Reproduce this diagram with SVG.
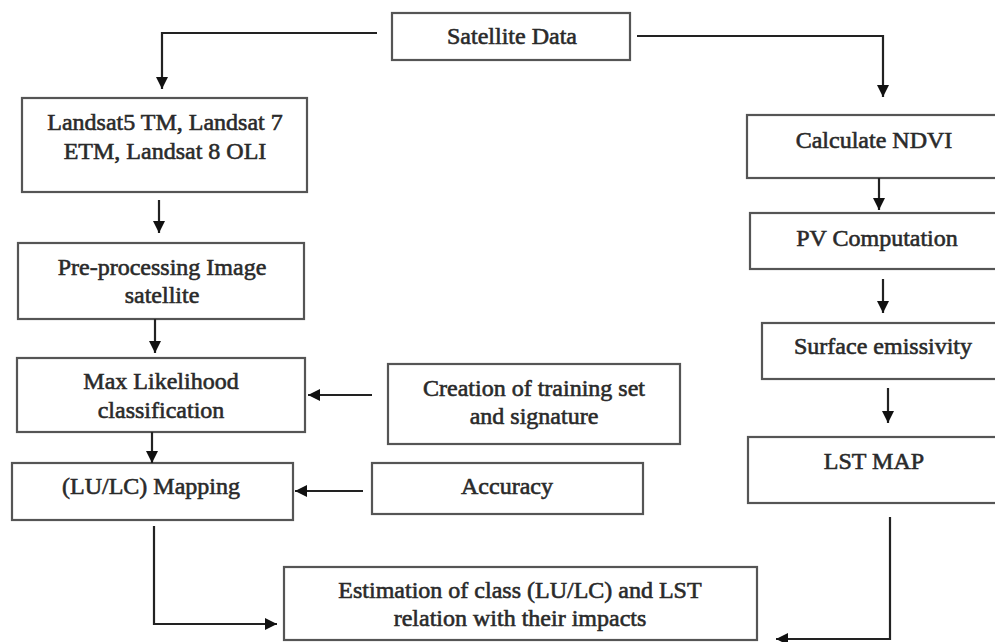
<svg xmlns="http://www.w3.org/2000/svg" width="995" height="642" viewBox="0 0 995 642">
<defs>
<marker id="ah" markerUnits="userSpaceOnUse" markerWidth="14" markerHeight="14" refX="12" refY="6" orient="auto">
<path d="M0,0 L12,6 L0,12 Z" fill="#111"/>
</marker>
<style>
.box{fill:#fff;stroke:#555;stroke-width:2.2}
.t{font-family:"Liberation Serif","Times New Roman",serif;font-size:24px;fill:#2a2a2a;stroke:#2a2a2a;stroke-width:0.6;text-anchor:middle}
.c{fill:none;stroke:#222;stroke-width:2.2;marker-end:url(#ah)}
</style>
</defs>
<rect width="995" height="642" fill="#fff"/>
<g id="satellite">
<rect class="box" x="392" y="13" width="238" height="47"/>
<text class="t" x="512" y="44">Satellite Data</text>
</g>
<g id="landsat">
<rect class="box" x="22" y="98" width="285" height="94"/>
<text class="t" x="165" y="130">Landsat5 TM, Landsat 7</text>
<text class="t" x="165" y="159">ETM, Landsat 8 OLI</text>
</g>
<g id="preprocessing">
<rect class="box" x="18" y="243" width="286" height="76"/>
<text class="t" x="162" y="275">Pre-processing Image</text>
<text class="t" x="162" y="303">satellite</text>
</g>
<g id="maxlikelihood">
<rect class="box" x="17" y="358" width="288" height="74"/>
<text class="t" x="161" y="389">Max Likelihood</text>
<text class="t" x="161" y="418">classification</text>
</g>
<g id="mapping">
<rect class="box" x="12" y="463" width="281" height="57"/>
<text class="t" x="151" y="494">(LU/LC) Mapping</text>
</g>
<g id="creation">
<rect class="box" x="388" y="364" width="292" height="80"/>
<text class="t" x="534" y="396">Creation of training set</text>
<text class="t" x="534" y="424">and signature</text>
</g>
<g id="accuracy">
<rect class="box" x="372" y="463" width="271" height="51"/>
<text class="t" x="507" y="494">Accuracy</text>
</g>
<g id="estimation">
<rect class="box" x="284" y="567" width="473" height="73"/>
<text class="t" x="520" y="598">Estimation of class (LU/LC) and LST</text>
<text class="t" x="520" y="626">relation with their impacts</text>
</g>
<g id="ndvi">
<rect class="box" x="747" y="115" width="255" height="63"/>
<text class="t" x="874" y="148">Calculate NDVI</text>
</g>
<g id="pv">
<rect class="box" x="750" y="213" width="255" height="56"/>
<text class="t" x="877" y="246">PV Computation</text>
</g>
<g id="emissivity">
<rect class="box" x="762" y="323" width="245" height="56"/>
<text class="t" x="883" y="354">Surface emissivity</text>
</g>
<g id="lstmap">
<rect class="box" x="748" y="437" width="255" height="66"/>
<text class="t" x="874" y="469">LST MAP</text>
</g>
<g id="connectors">
<path class="c" d="M377,33 H162 V89"/>
<path class="c" d="M637,36 H883 V97"/>
<path class="c" d="M159,200 V233"/>
<path class="c" d="M155,319 V353"/>
<path class="c" d="M152,432 V463"/>
<path class="c" d="M372,395 H308"/>
<path class="c" d="M363,491 H295"/>
<path class="c" d="M154,526 V624 H277"/>
<path class="c" d="M879,178 V210"/>
<path class="c" d="M883,279 V313"/>
<path class="c" d="M888,388 V423"/>
<path class="c" d="M890,517 V639 H776"/>
</g>
</svg>
